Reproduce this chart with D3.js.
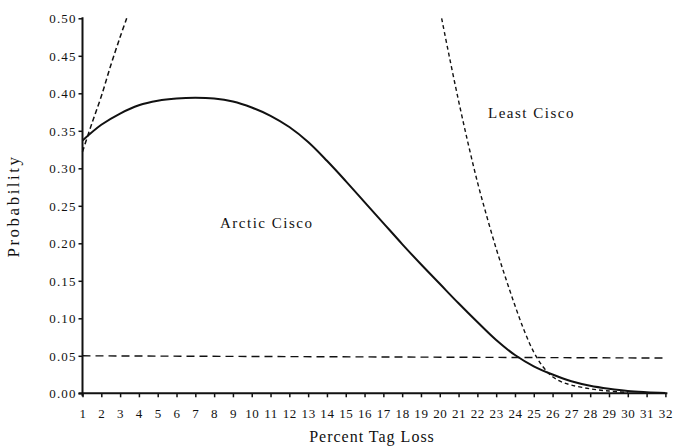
<!DOCTYPE html>
<html>
<head>
<meta charset="utf-8">
<script src="https://cdn.jsdelivr.net/npm/d3@7/dist/d3.min.js"></script>
<style>
  html, body { margin: 0; padding: 0; background: #fff; }
  svg { display: block; }
  text { font-family: "Liberation Serif", "Times New Roman", serif; fill: #111; }
</style>
</head>
<body>
<svg id="chart" width="676" height="446"></svg>
<script>
// ---- Data ----
const xTicks = d3.range(1, 33);                       // 1 .. 32
const yTicks = [0, 0.05, 0.10, 0.15, 0.20, 0.25, 0.30, 0.35, 0.40, 0.45, 0.50];

// Arctic Cisco (solid)
const arcticX = [1, 2, 3, 4, 5, 6, 7, 8, 9, 10, 11, 12, 13, 14, 15, 16, 17, 18, 19, 20, 21, 22, 23, 24, 25, 26, 27, 28, 29, 30, 31, 32];
const arcticY = [0.337, 0.358, 0.373, 0.384, 0.390, 0.393, 0.394, 0.393, 0.389, 0.381, 0.370, 0.355, 0.335, 0.310, 0.283, 0.255, 0.227, 0.199, 0.172, 0.146, 0.120, 0.095, 0.071, 0.051, 0.036, 0.025, 0.016, 0.010, 0.006, 0.003, 0.0015, 0.0005];

// Left steep dashed curve
const leftDashX = [1.0, 1.5, 2.0, 2.5, 3.0, 3.35];
const leftDashY = [0.322, 0.360, 0.396, 0.437, 0.475, 0.500];

// Least Cisco (dashed)
const leastX = [20.1, 20.5, 21.0, 21.5, 22.0, 22.5, 23.0, 23.5, 24.0, 24.5, 25.0, 25.5, 26.0, 26.5, 27.0, 28.0, 29.0, 30.0];
const leastY = [0.500, 0.450, 0.390, 0.334, 0.282, 0.236, 0.193, 0.154, 0.117, 0.083, 0.055, 0.035, 0.022, 0.015, 0.011, 0.006, 0.003, 0.001];

// 0.05 reference line
const refX = [1, 32];
const refY = [0.050, 0.047];

const labels = ["Arctic Cisco", "Least Cisco"];
const xTitle = "Percent Tag Loss";
const yTitle = "Probability";

// ---- Drawing ----
const FONT = '"Liberation Serif", "Times New Roman", serif';
const svg = d3.select("#chart");
const x = d3.scaleLinear().domain([1, 32]).range([82.5, 665.4]);
const y = d3.scaleLinear().domain([0, 0.5]).range([393.3, 18.3]);

const zip = (xs, ys) => xs.map((v, i) => [v, ys[i]]);
const line = d3.line().x(d => x(d[0])).y(d => y(d[1])).curve(d3.curveCatmullRom.alpha(0.5));

// Y axis
const yAxis = svg.append("g")
  .attr("transform", `translate(${x(1)},0)`)
  .attr("font-family", FONT)
  .call(d3.axisLeft(y).tickValues(yTicks).tickFormat(d3.format(".2f")).tickSize(4).tickSizeOuter(0));
yAxis.attr("font-family", FONT).attr("font-size", 13);
yAxis.select(".domain").remove();
yAxis.selectAll(".tick line").attr("stroke", "#111").attr("stroke-width", 1.5);
yAxis.selectAll(".tick text")
  .attr("x", -6).attr("dy", "0.34em")
  .style("font-family", FONT)
  .style("font-size", "13px").style("letter-spacing", "1.1px").attr("fill", "#111");
svg.append("line")
  .attr("x1", x(1)).attr("x2", x(1))
  .attr("y1", y(0.5) - 1).attr("y2", y(0) + 3)
  .attr("stroke", "#111").attr("stroke-width", 2);

// X axis
const xAxis = svg.append("g")
  .attr("transform", `translate(0,${y(0)})`)
  .call(d3.axisBottom(x).tickValues(xTicks).tickFormat(d3.format("d")).tickSize(4).tickSizeOuter(0));
xAxis.attr("font-family", FONT).attr("font-size", 13);
xAxis.select(".domain").remove();
xAxis.selectAll(".tick line").attr("stroke", "#111").attr("stroke-width", 1.5);
xAxis.selectAll(".tick text")
  .attr("y", 0).attr("dy", "25px")
  .style("font-family", FONT)
  .style("font-size", "13px").style("letter-spacing", "0.6px").attr("fill", "#111");
svg.append("line")
  .attr("x1", x(1) - 4).attr("x2", x(32) + 2)
  .attr("y1", y(0)).attr("y2", y(0))
  .attr("stroke", "#111").attr("stroke-width", 2);

// Reference dashed line
svg.append("path").datum(zip(refX, refY))
  .attr("d", d3.line().x(d => x(d[0])).y(d => y(d[1])))
  .attr("fill", "none").attr("stroke", "#111").attr("stroke-width", 1.4)
  .attr("stroke-dasharray", "8,5");

// Left dashed curve
svg.append("path").datum(zip(leftDashX, leftDashY))
  .attr("d", line)
  .attr("fill", "none").attr("stroke", "#111").attr("stroke-width", 1.5)
  .attr("stroke-dasharray", "5,3");

// Least Cisco dashed curve
svg.append("path").datum(zip(leastX, leastY))
  .attr("d", line)
  .attr("fill", "none").attr("stroke", "#111").attr("stroke-width", 1.4)
  .attr("stroke-dasharray", "4,3");

// Arctic Cisco solid curve
svg.append("path").datum(zip(arcticX, arcticY))
  .attr("d", line)
  .attr("fill", "none").attr("stroke", "#111").attr("stroke-width", 2);

// Curve labels
svg.append("text").attr("x", 220).attr("y", 228)
  .style("font-family", FONT)
  .style("font-size", "15px").style("letter-spacing", "1.5px").text(labels[0]);
svg.append("text").attr("x", 488).attr("y", 118)
  .style("font-family", FONT)
  .style("font-size", "15px").style("letter-spacing", "1.5px").text(labels[1]);

// Axis titles
svg.append("text").attr("x", 372).attr("y", 442).attr("text-anchor", "middle")
  .style("font-family", FONT)
  .style("font-size", "16px").style("letter-spacing", "1px").text(xTitle);
svg.append("text")
  .attr("transform", `translate(19,206) rotate(-90)`)
  .attr("text-anchor", "middle")
  .style("font-family", FONT)
  .style("font-size", "17px").style("letter-spacing", "2.5px").text(yTitle);
</script>
</body>
</html>
